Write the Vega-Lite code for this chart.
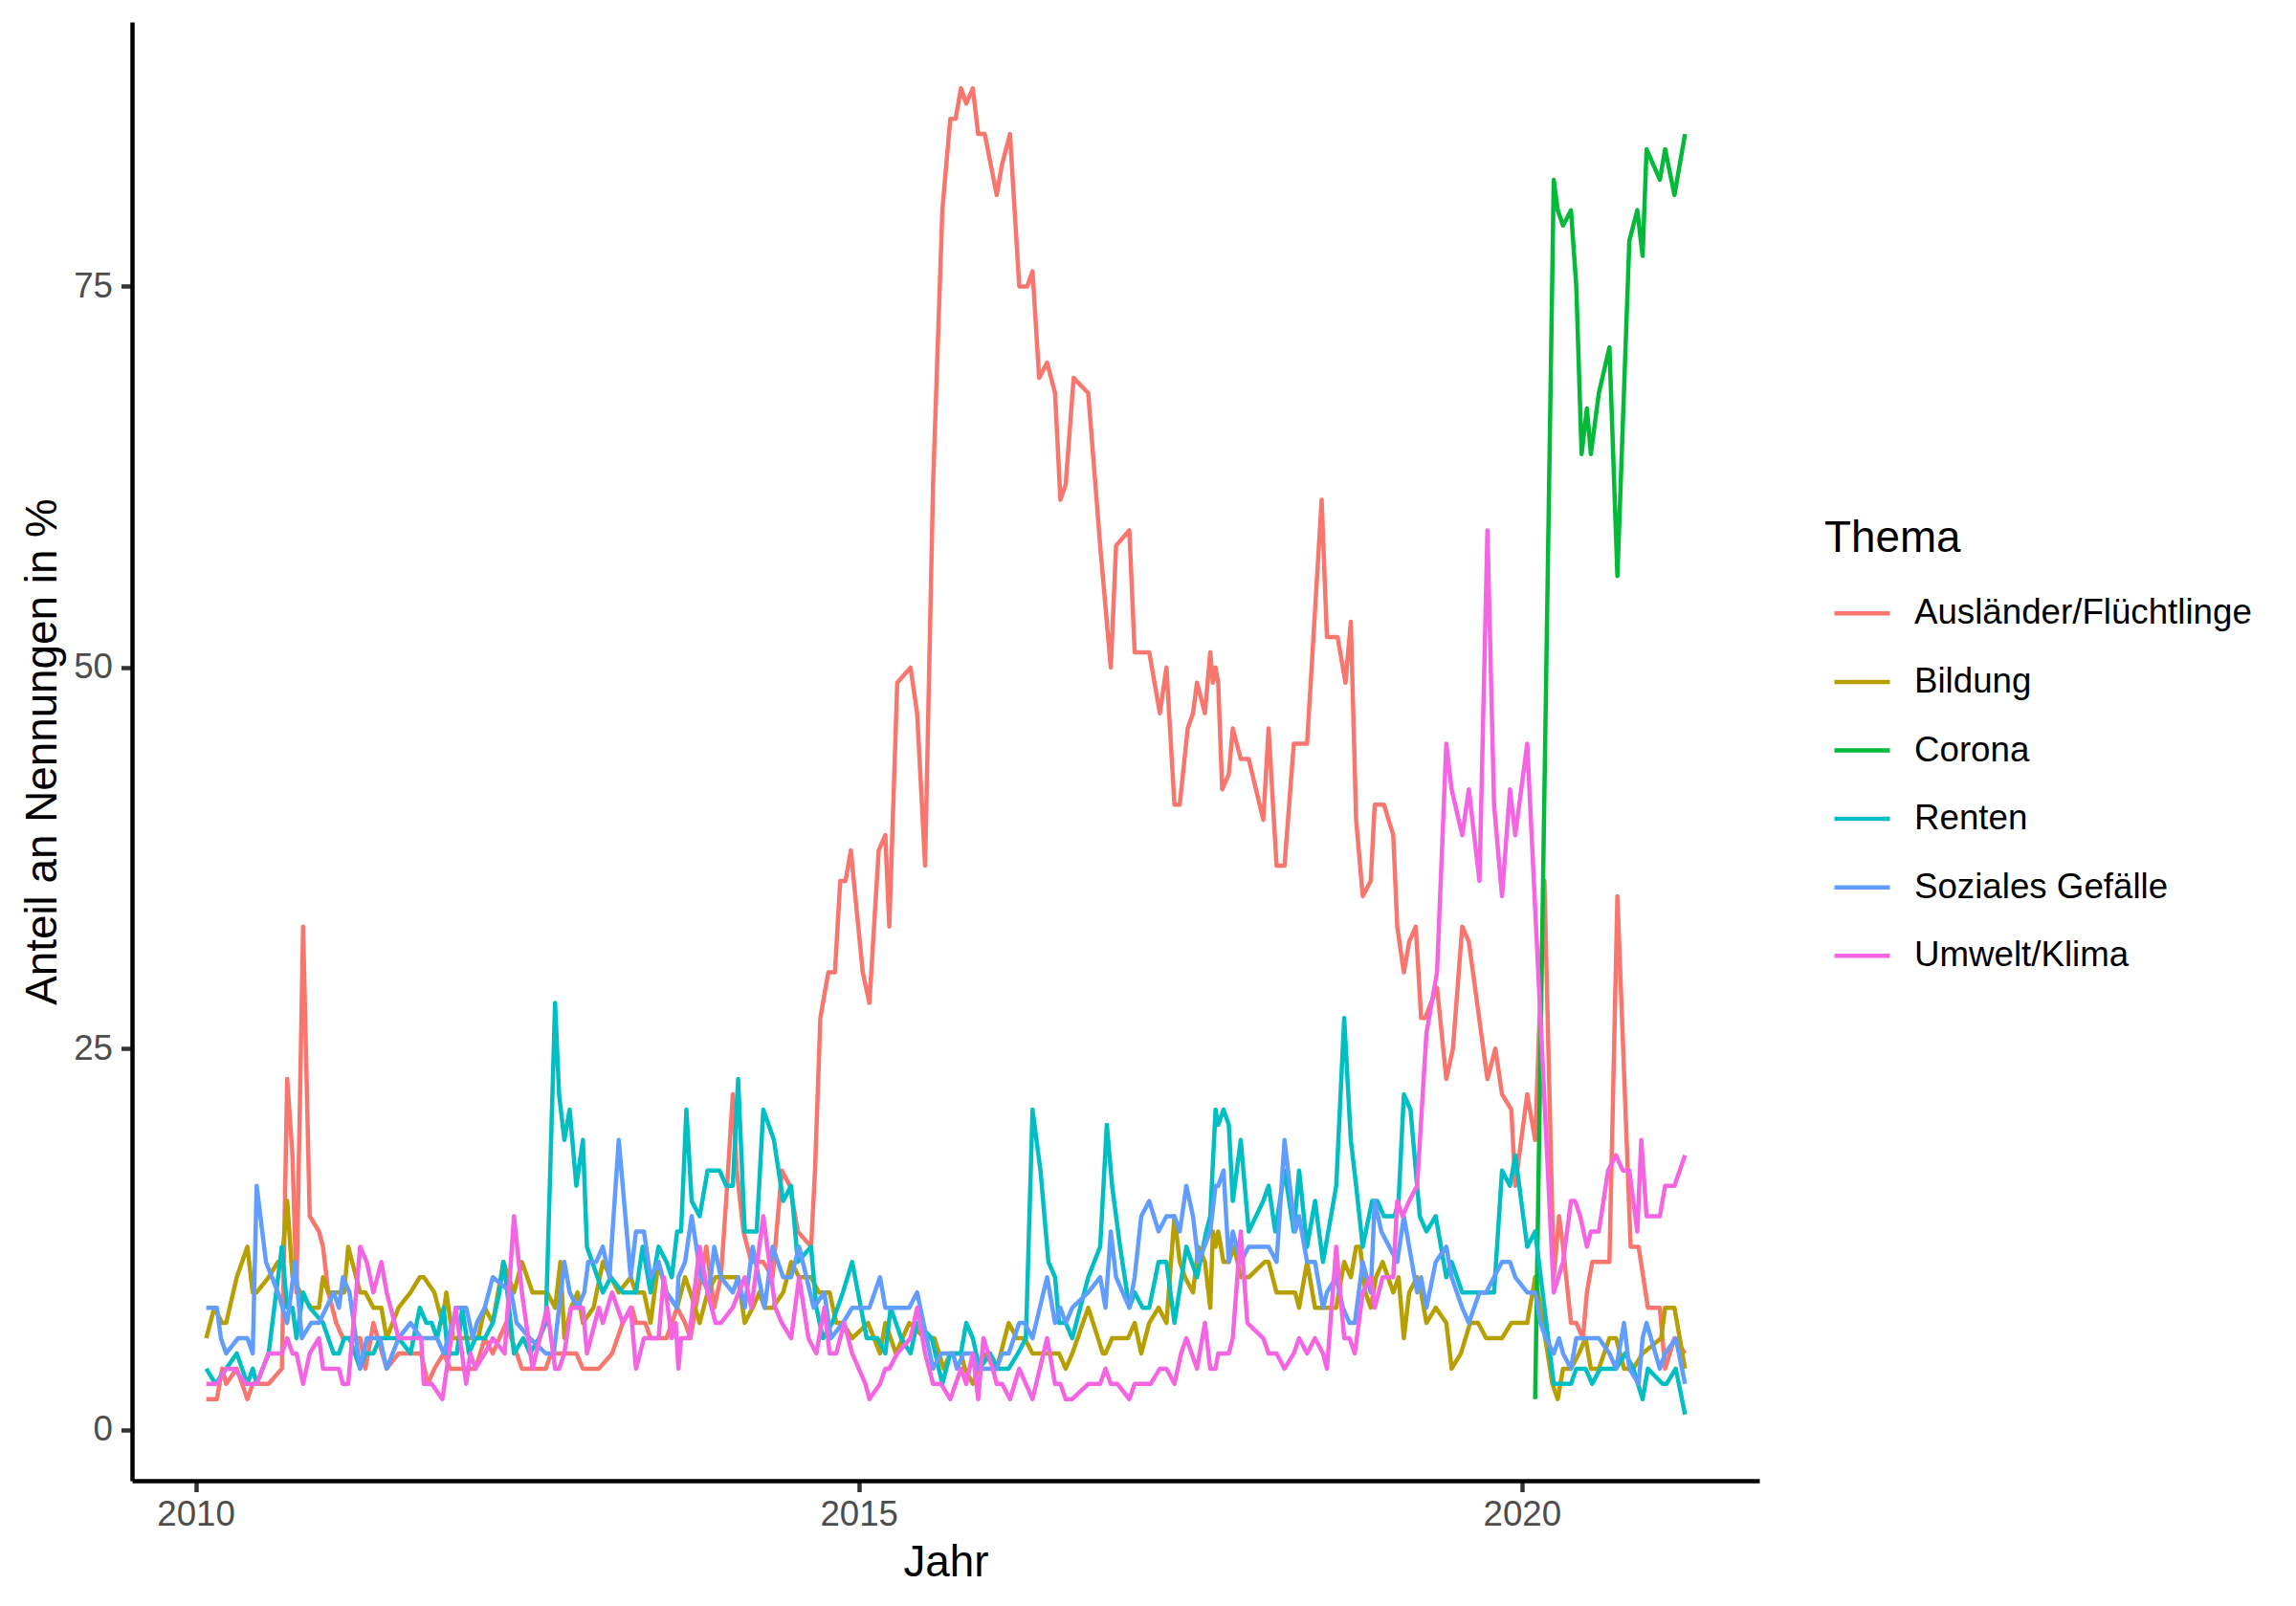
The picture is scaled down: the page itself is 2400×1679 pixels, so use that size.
{
  "$schema": "https://vega.github.io/schema/vega-lite/v6.json",
  "width": 1701,
  "height": 1525,
  "autosize": {"type": "none"},
  "padding": {"left": 138, "top": 23, "right": 561, "bottom": 131},
  "background": "white",
  "config": {
    "view": {"stroke": null},
    "font": "Liberation Sans",
    "axis": {
      "grid": false,
      "domainColor": "black",
      "domainWidth": 4.5,
      "tickColor": "#333333",
      "tickWidth": 4.5,
      "tickSize": 11.5,
      "labelColor": "#4D4D4D",
      "labelFont": "Liberation Sans",
      "labelFontSize": 36.7,
      "titleFont": "Liberation Sans",
      "titleFontSize": 45.8,
      "titleColor": "black",
      "titleFontWeight": "normal",
      "labelFlush": false,
      "labelOverlap": false,
      "labelBound": false
    },
    "axisX": {"labelPadding": 6, "titlePadding": 9},
    "axisY": {"labelPadding": 9, "titlePadding": 8},
    "legend": {
      "orient": "none",
      "legendX": 1769,
      "legendY": 518,
      "titleFont": "Liberation Sans",
      "titleFontSize": 45.8,
      "titleFontWeight": "normal",
      "titleColor": "black",
      "titlePadding": 23,
      "labelFont": "Liberation Sans",
      "labelFontSize": 36.7,
      "labelColor": "black",
      "labelLimit": 0,
      "labelOffset": 23,
      "symbolType": "stroke",
      "symbolSize": 3364,
      "symbolStrokeWidth": 4.5,
      "symbolOffset": 8,
      "rowPadding": 20.6
    },
    "line": {"strokeWidth": 4.5, "strokeJoin": "round", "strokeCap": "butt"}
  },
  "datasets": {
    "auslaender": [
      {"Jahr":2010.08,"Anteil":2},{"Jahr":2010.16,"Anteil":2},{"Jahr":2010.20,"Anteil":4},{"Jahr":2010.23,"Anteil":3},{"Jahr":2010.31,"Anteil":4},{"Jahr":2010.39,"Anteil":2},{"Jahr":2010.43,"Anteil":3},{"Jahr":2010.55,"Anteil":3},{"Jahr":2010.65,"Anteil":4},{"Jahr":2010.69,"Anteil":23},{"Jahr":2010.73,"Anteil":18},{"Jahr":2010.76,"Anteil":9},{"Jahr":2010.81,"Anteil":33},{"Jahr":2010.86,"Anteil":14},{"Jahr":2010.93,"Anteil":13},{"Jahr":2010.96,"Anteil":12},{"Jahr":2011.00,"Anteil":9},{"Jahr":2011.06,"Anteil":7},{"Jahr":2011.11,"Anteil":6},{"Jahr":2011.24,"Anteil":6},{"Jahr":2011.28,"Anteil":4},{"Jahr":2011.34,"Anteil":7},{"Jahr":2011.44,"Anteil":4},{"Jahr":2011.53,"Anteil":5},{"Jahr":2011.70,"Anteil":5},{"Jahr":2011.75,"Anteil":3},{"Jahr":2011.80,"Anteil":4},{"Jahr":2011.87,"Anteil":5},{"Jahr":2011.92,"Anteil":4},{"Jahr":2012.11,"Anteil":4},{"Jahr":2012.18,"Anteil":6},{"Jahr":2012.24,"Anteil":5},{"Jahr":2012.34,"Anteil":7},{"Jahr":2012.46,"Anteil":4},{"Jahr":2012.56,"Anteil":4},{"Jahr":2012.64,"Anteil":4},{"Jahr":2012.68,"Anteil":5},{"Jahr":2012.78,"Anteil":5},{"Jahr":2012.87,"Anteil":5},{"Jahr":2012.92,"Anteil":4},{"Jahr":2013.04,"Anteil":4},{"Jahr":2013.14,"Anteil":5},{"Jahr":2013.22,"Anteil":7},{"Jahr":2013.29,"Anteil":8},{"Jahr":2013.32,"Anteil":7},{"Jahr":2013.39,"Anteil":7},{"Jahr":2013.43,"Anteil":6},{"Jahr":2013.55,"Anteil":6},{"Jahr":2013.63,"Anteil":8},{"Jahr":2013.69,"Anteil":7},{"Jahr":2013.73,"Anteil":6},{"Jahr":2013.79,"Anteil":9},{"Jahr":2013.85,"Anteil":12},{"Jahr":2013.91,"Anteil":8},{"Jahr":2013.96,"Anteil":10},{"Jahr":2014.00,"Anteil":15},{"Jahr":2014.05,"Anteil":22},{"Jahr":2014.08,"Anteil":17},{"Jahr":2014.13,"Anteil":13},{"Jahr":2014.19,"Anteil":11},{"Jahr":2014.28,"Anteil":11},{"Jahr":2014.35,"Anteil":10},{"Jahr":2014.42,"Anteil":17},{"Jahr":2014.48,"Anteil":16},{"Jahr":2014.54,"Anteil":13},{"Jahr":2014.64,"Anteil":12},{"Jahr":2014.67,"Anteil":17},{"Jahr":2014.71,"Anteil":27},{"Jahr":2014.77,"Anteil":30},{"Jahr":2014.82,"Anteil":30},{"Jahr":2014.86,"Anteil":36},{"Jahr":2014.90,"Anteil":36},{"Jahr":2014.94,"Anteil":38},{"Jahr":2015.03,"Anteil":30},{"Jahr":2015.08,"Anteil":28},{"Jahr":2015.15,"Anteil":38},{"Jahr":2015.20,"Anteil":39},{"Jahr":2015.23,"Anteil":33},{"Jahr":2015.29,"Anteil":49},{"Jahr":2015.39,"Anteil":50},{"Jahr":2015.44,"Anteil":47},{"Jahr":2015.50,"Anteil":37},{"Jahr":2015.56,"Anteil":62},{"Jahr":2015.63,"Anteil":80},{"Jahr":2015.69,"Anteil":86},{"Jahr":2015.73,"Anteil":86},{"Jahr":2015.77,"Anteil":88},{"Jahr":2015.81,"Anteil":87},{"Jahr":2015.86,"Anteil":88},{"Jahr":2015.90,"Anteil":85},{"Jahr":2015.95,"Anteil":85},{"Jahr":2016.04,"Anteil":81},{"Jahr":2016.08,"Anteil":83},{"Jahr":2016.14,"Anteil":85},{"Jahr":2016.21,"Anteil":75},{"Jahr":2016.27,"Anteil":75},{"Jahr":2016.31,"Anteil":76},{"Jahr":2016.36,"Anteil":69},{"Jahr":2016.42,"Anteil":70},{"Jahr":2016.48,"Anteil":68},{"Jahr":2016.52,"Anteil":61},{"Jahr":2016.56,"Anteil":62},{"Jahr":2016.62,"Anteil":69},{"Jahr":2016.73,"Anteil":68},{"Jahr":2016.82,"Anteil":58},{"Jahr":2016.90,"Anteil":50},{"Jahr":2016.94,"Anteil":58},{"Jahr":2017.04,"Anteil":59},{"Jahr":2017.08,"Anteil":51},{"Jahr":2017.19,"Anteil":51},{"Jahr":2017.27,"Anteil":47},{"Jahr":2017.32,"Anteil":50},{"Jahr":2017.38,"Anteil":41},{"Jahr":2017.42,"Anteil":41},{"Jahr":2017.48,"Anteil":46},{"Jahr":2017.52,"Anteil":47},{"Jahr":2017.55,"Anteil":49},{"Jahr":2017.61,"Anteil":47},{"Jahr":2017.65,"Anteil":51},{"Jahr":2017.67,"Anteil":49},{"Jahr":2017.69,"Anteil":50},{"Jahr":2017.71,"Anteil":49},{"Jahr":2017.74,"Anteil":42},{"Jahr":2017.79,"Anteil":43},{"Jahr":2017.82,"Anteil":46},{"Jahr":2017.88,"Anteil":44},{"Jahr":2017.94,"Anteil":44},{"Jahr":2018.05,"Anteil":40},{"Jahr":2018.09,"Anteil":46},{"Jahr":2018.15,"Anteil":37},{"Jahr":2018.21,"Anteil":37},{"Jahr":2018.28,"Anteil":45},{"Jahr":2018.38,"Anteil":45},{"Jahr":2018.49,"Anteil":61},{"Jahr":2018.53,"Anteil":52},{"Jahr":2018.61,"Anteil":52},{"Jahr":2018.67,"Anteil":49},{"Jahr":2018.71,"Anteil":53},{"Jahr":2018.75,"Anteil":40},{"Jahr":2018.80,"Anteil":35},{"Jahr":2018.86,"Anteil":36},{"Jahr":2018.89,"Anteil":41},{"Jahr":2018.96,"Anteil":41},{"Jahr":2019.03,"Anteil":39},{"Jahr":2019.06,"Anteil":33},{"Jahr":2019.11,"Anteil":30},{"Jahr":2019.15,"Anteil":32},{"Jahr":2019.20,"Anteil":33},{"Jahr":2019.24,"Anteil":27},{"Jahr":2019.27,"Anteil":27},{"Jahr":2019.36,"Anteil":29},{"Jahr":2019.43,"Anteil":23},{"Jahr":2019.48,"Anteil":25},{"Jahr":2019.55,"Anteil":33},{"Jahr":2019.60,"Anteil":32},{"Jahr":2019.74,"Anteil":23},{"Jahr":2019.80,"Anteil":25},{"Jahr":2019.85,"Anteil":22},{"Jahr":2019.92,"Anteil":21},{"Jahr":2019.95,"Anteil":16},{"Jahr":2020.04,"Anteil":22},{"Jahr":2020.10,"Anteil":19},{"Jahr":2020.17,"Anteil":36},{"Jahr":2020.24,"Anteil":10},{"Jahr":2020.28,"Anteil":14},{"Jahr":2020.31,"Anteil":12},{"Jahr":2020.37,"Anteil":7},{"Jahr":2020.41,"Anteil":7},{"Jahr":2020.46,"Anteil":6},{"Jahr":2020.49,"Anteil":9},{"Jahr":2020.53,"Anteil":11},{"Jahr":2020.66,"Anteil":11},{"Jahr":2020.72,"Anteil":35},{"Jahr":2020.82,"Anteil":12},{"Jahr":2020.88,"Anteil":12},{"Jahr":2020.95,"Anteil":8},{"Jahr":2021.04,"Anteil":8},{"Jahr":2021.08,"Anteil":4},{"Jahr":2021.15,"Anteil":6},{"Jahr":2021.23,"Anteil":5}
    ],
    "bildung": [
      {"Jahr":2010.08,"Anteil":6},{"Jahr":2010.14,"Anteil":8},{"Jahr":2010.20,"Anteil":7},{"Jahr":2010.23,"Anteil":7},{"Jahr":2010.31,"Anteil":10},{"Jahr":2010.39,"Anteil":12},{"Jahr":2010.43,"Anteil":9},{"Jahr":2010.46,"Anteil":9},{"Jahr":2010.55,"Anteil":10},{"Jahr":2010.62,"Anteil":11},{"Jahr":2010.65,"Anteil":11},{"Jahr":2010.69,"Anteil":15},{"Jahr":2010.73,"Anteil":10},{"Jahr":2010.79,"Anteil":9},{"Jahr":2010.87,"Anteil":8},{"Jahr":2010.93,"Anteil":8},{"Jahr":2010.96,"Anteil":10},{"Jahr":2011.00,"Anteil":9},{"Jahr":2011.07,"Anteil":9},{"Jahr":2011.12,"Anteil":9},{"Jahr":2011.15,"Anteil":12},{"Jahr":2011.21,"Anteil":10},{"Jahr":2011.24,"Anteil":9},{"Jahr":2011.28,"Anteil":9},{"Jahr":2011.34,"Anteil":8},{"Jahr":2011.40,"Anteil":8},{"Jahr":2011.44,"Anteil":6},{"Jahr":2011.53,"Anteil":8},{"Jahr":2011.62,"Anteil":9},{"Jahr":2011.69,"Anteil":10},{"Jahr":2011.72,"Anteil":10},{"Jahr":2011.80,"Anteil":9},{"Jahr":2011.86,"Anteil":7},{"Jahr":2011.89,"Anteil":9},{"Jahr":2011.94,"Anteil":6},{"Jahr":2012.04,"Anteil":6},{"Jahr":2012.13,"Anteil":6},{"Jahr":2012.18,"Anteil":8},{"Jahr":2012.24,"Anteil":7},{"Jahr":2012.32,"Anteil":11},{"Jahr":2012.40,"Anteil":9},{"Jahr":2012.46,"Anteil":11},{"Jahr":2012.54,"Anteil":9},{"Jahr":2012.65,"Anteil":9},{"Jahr":2012.71,"Anteil":8},{"Jahr":2012.75,"Anteil":11},{"Jahr":2012.78,"Anteil":6},{"Jahr":2012.83,"Anteil":8},{"Jahr":2012.88,"Anteil":9},{"Jahr":2012.92,"Anteil":7},{"Jahr":2013.00,"Anteil":8},{"Jahr":2013.07,"Anteil":11},{"Jahr":2013.13,"Anteil":10},{"Jahr":2013.19,"Anteil":9},{"Jahr":2013.28,"Anteil":10},{"Jahr":2013.32,"Anteil":9},{"Jahr":2013.38,"Anteil":9},{"Jahr":2013.43,"Anteil":7},{"Jahr":2013.49,"Anteil":11},{"Jahr":2013.55,"Anteil":9},{"Jahr":2013.63,"Anteil":8},{"Jahr":2013.69,"Anteil":10},{"Jahr":2013.73,"Anteil":9},{"Jahr":2013.80,"Anteil":7},{"Jahr":2013.86,"Anteil":9},{"Jahr":2013.92,"Anteil":10},{"Jahr":2013.96,"Anteil":10},{"Jahr":2014.09,"Anteil":10},{"Jahr":2014.14,"Anteil":7},{"Jahr":2014.20,"Anteil":8},{"Jahr":2014.25,"Anteil":9},{"Jahr":2014.29,"Anteil":8},{"Jahr":2014.35,"Anteil":8},{"Jahr":2014.43,"Anteil":9},{"Jahr":2014.49,"Anteil":11},{"Jahr":2014.55,"Anteil":10},{"Jahr":2014.64,"Anteil":10},{"Jahr":2014.70,"Anteil":9},{"Jahr":2014.78,"Anteil":9},{"Jahr":2014.83,"Anteil":7},{"Jahr":2014.88,"Anteil":7},{"Jahr":2014.95,"Anteil":6},{"Jahr":2015.07,"Anteil":7},{"Jahr":2015.16,"Anteil":5},{"Jahr":2015.20,"Anteil":7},{"Jahr":2015.28,"Anteil":5},{"Jahr":2015.38,"Anteil":7},{"Jahr":2015.50,"Anteil":6},{"Jahr":2015.57,"Anteil":6},{"Jahr":2015.64,"Anteil":4},{"Jahr":2015.69,"Anteil":5},{"Jahr":2015.77,"Anteil":5},{"Jahr":2015.80,"Anteil":4},{"Jahr":2015.86,"Anteil":3},{"Jahr":2015.94,"Anteil":5},{"Jahr":2016.04,"Anteil":4},{"Jahr":2016.13,"Anteil":7},{"Jahr":2016.19,"Anteil":6},{"Jahr":2016.25,"Anteil":6},{"Jahr":2016.31,"Anteil":5},{"Jahr":2016.42,"Anteil":5},{"Jahr":2016.51,"Anteil":5},{"Jahr":2016.56,"Anteil":4},{"Jahr":2016.61,"Anteil":5},{"Jahr":2016.73,"Anteil":8},{"Jahr":2016.84,"Anteil":5},{"Jahr":2016.86,"Anteil":5},{"Jahr":2016.91,"Anteil":6},{"Jahr":2017.03,"Anteil":6},{"Jahr":2017.08,"Anteil":7},{"Jahr":2017.13,"Anteil":5},{"Jahr":2017.19,"Anteil":7},{"Jahr":2017.26,"Anteil":8},{"Jahr":2017.32,"Anteil":7},{"Jahr":2017.38,"Anteil":14},{"Jahr":2017.42,"Anteil":11},{"Jahr":2017.46,"Anteil":10},{"Jahr":2017.52,"Anteil":9},{"Jahr":2017.56,"Anteil":12},{"Jahr":2017.61,"Anteil":11},{"Jahr":2017.65,"Anteil":8},{"Jahr":2017.67,"Anteil":13},{"Jahr":2017.69,"Anteil":12},{"Jahr":2017.71,"Anteil":13},{"Jahr":2017.75,"Anteil":11},{"Jahr":2017.79,"Anteil":11},{"Jahr":2017.83,"Anteil":12},{"Jahr":2017.88,"Anteil":10},{"Jahr":2017.94,"Anteil":10},{"Jahr":2018.06,"Anteil":11},{"Jahr":2018.09,"Anteil":11},{"Jahr":2018.15,"Anteil":9},{"Jahr":2018.29,"Anteil":9},{"Jahr":2018.32,"Anteil":8},{"Jahr":2018.38,"Anteil":11},{"Jahr":2018.44,"Anteil":8},{"Jahr":2018.50,"Anteil":8},{"Jahr":2018.60,"Anteil":8},{"Jahr":2018.66,"Anteil":11},{"Jahr":2018.71,"Anteil":10},{"Jahr":2018.75,"Anteil":12},{"Jahr":2018.78,"Anteil":12},{"Jahr":2018.82,"Anteil":9},{"Jahr":2018.86,"Anteil":8},{"Jahr":2018.90,"Anteil":10},{"Jahr":2018.95,"Anteil":11},{"Jahr":2018.99,"Anteil":10},{"Jahr":2019.03,"Anteil":9},{"Jahr":2019.07,"Anteil":10},{"Jahr":2019.11,"Anteil":6},{"Jahr":2019.15,"Anteil":9},{"Jahr":2019.21,"Anteil":10},{"Jahr":2019.24,"Anteil":9},{"Jahr":2019.28,"Anteil":7},{"Jahr":2019.35,"Anteil":8},{"Jahr":2019.43,"Anteil":7},{"Jahr":2019.47,"Anteil":4},{"Jahr":2019.54,"Anteil":5},{"Jahr":2019.61,"Anteil":7},{"Jahr":2019.67,"Anteil":7},{"Jahr":2019.73,"Anteil":6},{"Jahr":2019.85,"Anteil":6},{"Jahr":2019.92,"Anteil":7},{"Jahr":2020.04,"Anteil":7},{"Jahr":2020.10,"Anteil":10},{"Jahr":2020.14,"Anteil":8},{"Jahr":2020.23,"Anteil":3},{"Jahr":2020.27,"Anteil":2},{"Jahr":2020.31,"Anteil":4},{"Jahr":2020.37,"Anteil":4},{"Jahr":2020.43,"Anteil":5},{"Jahr":2020.48,"Anteil":6},{"Jahr":2020.52,"Anteil":4},{"Jahr":2020.58,"Anteil":4},{"Jahr":2020.66,"Anteil":6},{"Jahr":2020.71,"Anteil":6},{"Jahr":2020.77,"Anteil":4},{"Jahr":2020.84,"Anteil":4},{"Jahr":2020.91,"Anteil":5},{"Jahr":2021.05,"Anteil":6},{"Jahr":2021.08,"Anteil":8},{"Jahr":2021.15,"Anteil":8},{"Jahr":2021.23,"Anteil":4}
    ],
    "corona": [
      {"Jahr":2020.10,"Anteil":2},{"Jahr":2020.24,"Anteil":82},{"Jahr":2020.27,"Anteil":80},{"Jahr":2020.31,"Anteil":79},{"Jahr":2020.37,"Anteil":80},{"Jahr":2020.41,"Anteil":75},{"Jahr":2020.45,"Anteil":64},{"Jahr":2020.49,"Anteil":67},{"Jahr":2020.52,"Anteil":64},{"Jahr":2020.58,"Anteil":68},{"Jahr":2020.66,"Anteil":71},{"Jahr":2020.72,"Anteil":56},{"Jahr":2020.81,"Anteil":78},{"Jahr":2020.87,"Anteil":80},{"Jahr":2020.91,"Anteil":77},{"Jahr":2020.94,"Anteil":84},{"Jahr":2021.04,"Anteil":82},{"Jahr":2021.08,"Anteil":84},{"Jahr":2021.15,"Anteil":81},{"Jahr":2021.23,"Anteil":85}
    ],
    "renten": [
      {"Jahr":2010.08,"Anteil":4},{"Jahr":2010.15,"Anteil":3},{"Jahr":2010.23,"Anteil":4},{"Jahr":2010.31,"Anteil":5},{"Jahr":2010.39,"Anteil":3},{"Jahr":2010.43,"Anteil":4},{"Jahr":2010.46,"Anteil":3},{"Jahr":2010.55,"Anteil":5},{"Jahr":2010.65,"Anteil":12},{"Jahr":2010.69,"Anteil":8},{"Jahr":2010.73,"Anteil":8},{"Jahr":2010.76,"Anteil":6},{"Jahr":2010.81,"Anteil":9},{"Jahr":2010.86,"Anteil":8},{"Jahr":2010.96,"Anteil":7},{"Jahr":2011.04,"Anteil":5},{"Jahr":2011.08,"Anteil":5},{"Jahr":2011.12,"Anteil":6},{"Jahr":2011.16,"Anteil":6},{"Jahr":2011.24,"Anteil":4},{"Jahr":2011.28,"Anteil":5},{"Jahr":2011.34,"Anteil":5},{"Jahr":2011.39,"Anteil":6},{"Jahr":2011.45,"Anteil":6},{"Jahr":2011.53,"Anteil":6},{"Jahr":2011.62,"Anteil":5},{"Jahr":2011.69,"Anteil":8},{"Jahr":2011.74,"Anteil":7},{"Jahr":2011.78,"Anteil":7},{"Jahr":2011.82,"Anteil":6},{"Jahr":2011.87,"Anteil":8},{"Jahr":2011.90,"Anteil":5},{"Jahr":2011.97,"Anteil":5},{"Jahr":2012.01,"Anteil":8},{"Jahr":2012.06,"Anteil":5},{"Jahr":2012.11,"Anteil":6},{"Jahr":2012.18,"Anteil":6},{"Jahr":2012.24,"Anteil":7},{"Jahr":2012.29,"Anteil":9},{"Jahr":2012.32,"Anteil":11},{"Jahr":2012.35,"Anteil":9},{"Jahr":2012.40,"Anteil":5},{"Jahr":2012.47,"Anteil":6},{"Jahr":2012.52,"Anteil":5},{"Jahr":2012.59,"Anteil":6},{"Jahr":2012.64,"Anteil":7},{"Jahr":2012.71,"Anteil":28},{"Jahr":2012.74,"Anteil":22},{"Jahr":2012.78,"Anteil":19},{"Jahr":2012.82,"Anteil":21},{"Jahr":2012.87,"Anteil":16},{"Jahr":2012.92,"Anteil":19},{"Jahr":2012.95,"Anteil":12},{"Jahr":2012.99,"Anteil":11},{"Jahr":2013.07,"Anteil":9},{"Jahr":2013.13,"Anteil":10},{"Jahr":2013.22,"Anteil":9},{"Jahr":2013.32,"Anteil":9},{"Jahr":2013.37,"Anteil":12},{"Jahr":2013.43,"Anteil":9},{"Jahr":2013.49,"Anteil":12},{"Jahr":2013.55,"Anteil":11},{"Jahr":2013.59,"Anteil":10},{"Jahr":2013.63,"Anteil":13},{"Jahr":2013.66,"Anteil":13},{"Jahr":2013.70,"Anteil":21},{"Jahr":2013.74,"Anteil":15},{"Jahr":2013.80,"Anteil":14},{"Jahr":2013.86,"Anteil":17},{"Jahr":2013.95,"Anteil":17},{"Jahr":2014.00,"Anteil":16},{"Jahr":2014.05,"Anteil":16},{"Jahr":2014.09,"Anteil":23},{"Jahr":2014.14,"Anteil":13},{"Jahr":2014.23,"Anteil":13},{"Jahr":2014.28,"Anteil":21},{"Jahr":2014.36,"Anteil":19},{"Jahr":2014.43,"Anteil":15},{"Jahr":2014.49,"Anteil":16},{"Jahr":2014.54,"Anteil":11},{"Jahr":2014.64,"Anteil":12},{"Jahr":2014.68,"Anteil":8},{"Jahr":2014.73,"Anteil":6},{"Jahr":2014.80,"Anteil":7},{"Jahr":2014.88,"Anteil":9},{"Jahr":2014.95,"Anteil":11},{"Jahr":2015.06,"Anteil":6},{"Jahr":2015.14,"Anteil":6},{"Jahr":2015.20,"Anteil":5},{"Jahr":2015.24,"Anteil":8},{"Jahr":2015.32,"Anteil":6},{"Jahr":2015.39,"Anteil":5},{"Jahr":2015.44,"Anteil":7},{"Jahr":2015.55,"Anteil":6},{"Jahr":2015.63,"Anteil":3},{"Jahr":2015.69,"Anteil":5},{"Jahr":2015.77,"Anteil":5},{"Jahr":2015.81,"Anteil":7},{"Jahr":2015.86,"Anteil":6},{"Jahr":2015.91,"Anteil":4},{"Jahr":2015.99,"Anteil":5},{"Jahr":2016.05,"Anteil":4},{"Jahr":2016.13,"Anteil":4},{"Jahr":2016.20,"Anteil":5},{"Jahr":2016.26,"Anteil":6},{"Jahr":2016.31,"Anteil":21},{"Jahr":2016.37,"Anteil":17},{"Jahr":2016.43,"Anteil":11},{"Jahr":2016.48,"Anteil":10},{"Jahr":2016.51,"Anteil":7},{"Jahr":2016.56,"Anteil":7},{"Jahr":2016.61,"Anteil":6},{"Jahr":2016.67,"Anteil":8},{"Jahr":2016.73,"Anteil":10},{"Jahr":2016.82,"Anteil":12},{"Jahr":2016.87,"Anteil":20},{"Jahr":2016.91,"Anteil":16},{"Jahr":2016.97,"Anteil":12},{"Jahr":2017.04,"Anteil":8},{"Jahr":2017.08,"Anteil":9},{"Jahr":2017.14,"Anteil":8},{"Jahr":2017.19,"Anteil":8},{"Jahr":2017.26,"Anteil":11},{"Jahr":2017.32,"Anteil":11},{"Jahr":2017.38,"Anteil":7},{"Jahr":2017.47,"Anteil":12},{"Jahr":2017.55,"Anteil":10},{"Jahr":2017.62,"Anteil":13},{"Jahr":2017.65,"Anteil":14},{"Jahr":2017.69,"Anteil":21},{"Jahr":2017.71,"Anteil":20},{"Jahr":2017.75,"Anteil":21},{"Jahr":2017.79,"Anteil":20},{"Jahr":2017.82,"Anteil":15},{"Jahr":2017.88,"Anteil":19},{"Jahr":2017.94,"Anteil":13},{"Jahr":2018.05,"Anteil":15},{"Jahr":2018.09,"Anteil":16},{"Jahr":2018.14,"Anteil":13},{"Jahr":2018.21,"Anteil":17},{"Jahr":2018.28,"Anteil":13},{"Jahr":2018.32,"Anteil":17},{"Jahr":2018.38,"Anteil":12},{"Jahr":2018.44,"Anteil":15},{"Jahr":2018.50,"Anteil":11},{"Jahr":2018.60,"Anteil":16},{"Jahr":2018.66,"Anteil":27},{"Jahr":2018.71,"Anteil":19},{"Jahr":2018.75,"Anteil":16},{"Jahr":2018.80,"Anteil":12},{"Jahr":2018.87,"Anteil":15},{"Jahr":2018.91,"Anteil":15},{"Jahr":2018.96,"Anteil":14},{"Jahr":2019.04,"Anteil":14},{"Jahr":2019.07,"Anteil":15},{"Jahr":2019.11,"Anteil":22},{"Jahr":2019.16,"Anteil":21},{"Jahr":2019.23,"Anteil":14},{"Jahr":2019.28,"Anteil":13},{"Jahr":2019.35,"Anteil":14},{"Jahr":2019.43,"Anteil":10},{"Jahr":2019.47,"Anteil":11},{"Jahr":2019.55,"Anteil":9},{"Jahr":2019.65,"Anteil":9},{"Jahr":2019.79,"Anteil":9},{"Jahr":2019.85,"Anteil":17},{"Jahr":2019.91,"Anteil":16},{"Jahr":2019.95,"Anteil":18},{"Jahr":2020.04,"Anteil":12},{"Jahr":2020.10,"Anteil":13},{"Jahr":2020.24,"Anteil":3},{"Jahr":2020.37,"Anteil":3},{"Jahr":2020.41,"Anteil":4},{"Jahr":2020.48,"Anteil":4},{"Jahr":2020.53,"Anteil":3},{"Jahr":2020.59,"Anteil":4},{"Jahr":2020.71,"Anteil":4},{"Jahr":2020.78,"Anteil":5},{"Jahr":2020.84,"Anteil":4},{"Jahr":2020.91,"Anteil":2},{"Jahr":2020.95,"Anteil":4},{"Jahr":2021.06,"Anteil":3},{"Jahr":2021.09,"Anteil":3},{"Jahr":2021.16,"Anteil":4},{"Jahr":2021.23,"Anteil":1}
    ],
    "soziales": [
      {"Jahr":2010.08,"Anteil":8},{"Jahr":2010.16,"Anteil":8},{"Jahr":2010.19,"Anteil":6},{"Jahr":2010.23,"Anteil":5},{"Jahr":2010.32,"Anteil":6},{"Jahr":2010.39,"Anteil":6},{"Jahr":2010.43,"Anteil":5},{"Jahr":2010.46,"Anteil":16},{"Jahr":2010.53,"Anteil":11},{"Jahr":2010.62,"Anteil":9},{"Jahr":2010.69,"Anteil":7},{"Jahr":2010.75,"Anteil":11},{"Jahr":2010.80,"Anteil":6},{"Jahr":2010.87,"Anteil":7},{"Jahr":2010.93,"Anteil":7},{"Jahr":2011.04,"Anteil":9},{"Jahr":2011.08,"Anteil":8},{"Jahr":2011.11,"Anteil":10},{"Jahr":2011.16,"Anteil":9},{"Jahr":2011.24,"Anteil":4},{"Jahr":2011.29,"Anteil":6},{"Jahr":2011.39,"Anteil":6},{"Jahr":2011.44,"Anteil":4},{"Jahr":2011.53,"Anteil":6},{"Jahr":2011.62,"Anteil":7},{"Jahr":2011.70,"Anteil":6},{"Jahr":2011.82,"Anteil":6},{"Jahr":2011.87,"Anteil":5},{"Jahr":2011.97,"Anteil":8},{"Jahr":2012.04,"Anteil":8},{"Jahr":2012.09,"Anteil":6},{"Jahr":2012.12,"Anteil":7},{"Jahr":2012.18,"Anteil":8},{"Jahr":2012.24,"Anteil":10},{"Jahr":2012.38,"Anteil":9},{"Jahr":2012.42,"Anteil":7},{"Jahr":2012.52,"Anteil":6},{"Jahr":2012.64,"Anteil":5},{"Jahr":2012.70,"Anteil":5},{"Jahr":2012.78,"Anteil":11},{"Jahr":2012.82,"Anteil":9},{"Jahr":2012.88,"Anteil":8},{"Jahr":2012.93,"Anteil":9},{"Jahr":2012.96,"Anteil":11},{"Jahr":2013.02,"Anteil":11},{"Jahr":2013.07,"Anteil":12},{"Jahr":2013.12,"Anteil":10},{"Jahr":2013.19,"Anteil":19},{"Jahr":2013.28,"Anteil":10},{"Jahr":2013.32,"Anteil":13},{"Jahr":2013.38,"Anteil":13},{"Jahr":2013.43,"Anteil":10},{"Jahr":2013.49,"Anteil":11},{"Jahr":2013.55,"Anteil":9},{"Jahr":2013.63,"Anteil":8},{"Jahr":2013.64,"Anteil":10},{"Jahr":2013.69,"Anteil":11},{"Jahr":2013.74,"Anteil":14},{"Jahr":2013.81,"Anteil":10},{"Jahr":2013.87,"Anteil":9},{"Jahr":2013.91,"Anteil":12},{"Jahr":2013.96,"Anteil":10},{"Jahr":2014.05,"Anteil":9},{"Jahr":2014.09,"Anteil":10},{"Jahr":2014.14,"Anteil":8},{"Jahr":2014.20,"Anteil":12},{"Jahr":2014.29,"Anteil":8},{"Jahr":2014.35,"Anteil":12},{"Jahr":2014.43,"Anteil":10},{"Jahr":2014.49,"Anteil":10},{"Jahr":2014.55,"Anteil":12},{"Jahr":2014.66,"Anteil":8},{"Jahr":2014.74,"Anteil":9},{"Jahr":2014.79,"Anteil":6},{"Jahr":2014.88,"Anteil":7},{"Jahr":2014.95,"Anteil":8},{"Jahr":2015.08,"Anteil":8},{"Jahr":2015.16,"Anteil":10},{"Jahr":2015.20,"Anteil":8},{"Jahr":2015.38,"Anteil":8},{"Jahr":2015.44,"Anteil":9},{"Jahr":2015.56,"Anteil":4},{"Jahr":2015.62,"Anteil":5},{"Jahr":2015.71,"Anteil":5},{"Jahr":2015.74,"Anteil":4},{"Jahr":2015.79,"Anteil":5},{"Jahr":2015.86,"Anteil":5},{"Jahr":2015.90,"Anteil":4},{"Jahr":2016.04,"Anteil":4},{"Jahr":2016.08,"Anteil":5},{"Jahr":2016.13,"Anteil":5},{"Jahr":2016.21,"Anteil":7},{"Jahr":2016.25,"Anteil":7},{"Jahr":2016.31,"Anteil":6},{"Jahr":2016.42,"Anteil":10},{"Jahr":2016.48,"Anteil":7},{"Jahr":2016.52,"Anteil":8},{"Jahr":2016.56,"Anteil":7},{"Jahr":2016.61,"Anteil":8},{"Jahr":2016.73,"Anteil":9},{"Jahr":2016.82,"Anteil":10},{"Jahr":2016.86,"Anteil":8},{"Jahr":2016.90,"Anteil":13},{"Jahr":2016.94,"Anteil":10},{"Jahr":2017.04,"Anteil":8},{"Jahr":2017.08,"Anteil":10},{"Jahr":2017.13,"Anteil":14},{"Jahr":2017.19,"Anteil":15},{"Jahr":2017.26,"Anteil":13},{"Jahr":2017.32,"Anteil":14},{"Jahr":2017.38,"Anteil":14},{"Jahr":2017.42,"Anteil":13},{"Jahr":2017.47,"Anteil":16},{"Jahr":2017.52,"Anteil":14},{"Jahr":2017.56,"Anteil":11},{"Jahr":2017.65,"Anteil":13},{"Jahr":2017.69,"Anteil":16},{"Jahr":2017.71,"Anteil":16},{"Jahr":2017.75,"Anteil":17},{"Jahr":2017.79,"Anteil":11},{"Jahr":2017.82,"Anteil":13},{"Jahr":2017.88,"Anteil":11},{"Jahr":2017.94,"Anteil":12},{"Jahr":2018.09,"Anteil":12},{"Jahr":2018.15,"Anteil":11},{"Jahr":2018.21,"Anteil":19},{"Jahr":2018.29,"Anteil":13},{"Jahr":2018.32,"Anteil":14},{"Jahr":2018.38,"Anteil":11},{"Jahr":2018.44,"Anteil":11},{"Jahr":2018.50,"Anteil":8},{"Jahr":2018.53,"Anteil":9},{"Jahr":2018.60,"Anteil":10},{"Jahr":2018.65,"Anteil":8},{"Jahr":2018.70,"Anteil":7},{"Jahr":2018.74,"Anteil":7},{"Jahr":2018.80,"Anteil":11},{"Jahr":2018.86,"Anteil":9},{"Jahr":2018.89,"Anteil":15},{"Jahr":2018.94,"Anteil":13},{"Jahr":2019.00,"Anteil":12},{"Jahr":2019.06,"Anteil":11},{"Jahr":2019.11,"Anteil":14},{"Jahr":2019.21,"Anteil":9},{"Jahr":2019.24,"Anteil":10},{"Jahr":2019.28,"Anteil":8},{"Jahr":2019.35,"Anteil":11},{"Jahr":2019.43,"Anteil":12},{"Jahr":2019.47,"Anteil":10},{"Jahr":2019.55,"Anteil":8},{"Jahr":2019.60,"Anteil":7},{"Jahr":2019.68,"Anteil":9},{"Jahr":2019.73,"Anteil":9},{"Jahr":2019.79,"Anteil":10},{"Jahr":2019.85,"Anteil":11},{"Jahr":2019.91,"Anteil":11},{"Jahr":2019.95,"Anteil":10},{"Jahr":2020.04,"Anteil":9},{"Jahr":2020.10,"Anteil":9},{"Jahr":2020.14,"Anteil":7},{"Jahr":2020.18,"Anteil":6},{"Jahr":2020.24,"Anteil":5},{"Jahr":2020.28,"Anteil":6},{"Jahr":2020.31,"Anteil":5},{"Jahr":2020.37,"Anteil":4},{"Jahr":2020.41,"Anteil":6},{"Jahr":2020.58,"Anteil":6},{"Jahr":2020.66,"Anteil":5},{"Jahr":2020.71,"Anteil":4},{"Jahr":2020.77,"Anteil":7},{"Jahr":2020.81,"Anteil":4},{"Jahr":2020.88,"Anteil":3},{"Jahr":2020.91,"Anteil":6},{"Jahr":2020.94,"Anteil":7},{"Jahr":2021.04,"Anteil":4},{"Jahr":2021.08,"Anteil":5},{"Jahr":2021.16,"Anteil":6},{"Jahr":2021.23,"Anteil":3}
    ],
    "umwelt": [
      {"Jahr":2010.08,"Anteil":3},{"Jahr":2010.16,"Anteil":3},{"Jahr":2010.23,"Anteil":4},{"Jahr":2010.29,"Anteil":4},{"Jahr":2010.38,"Anteil":3},{"Jahr":2010.46,"Anteil":3},{"Jahr":2010.55,"Anteil":5},{"Jahr":2010.65,"Anteil":5},{"Jahr":2010.69,"Anteil":6},{"Jahr":2010.73,"Anteil":5},{"Jahr":2010.76,"Anteil":5},{"Jahr":2010.81,"Anteil":3},{"Jahr":2010.86,"Anteil":5},{"Jahr":2010.93,"Anteil":6},{"Jahr":2010.96,"Anteil":4},{"Jahr":2011.08,"Anteil":4},{"Jahr":2011.11,"Anteil":3},{"Jahr":2011.15,"Anteil":3},{"Jahr":2011.24,"Anteil":12},{"Jahr":2011.29,"Anteil":11},{"Jahr":2011.34,"Anteil":9},{"Jahr":2011.40,"Anteil":11},{"Jahr":2011.44,"Anteil":9},{"Jahr":2011.53,"Anteil":6},{"Jahr":2011.70,"Anteil":6},{"Jahr":2011.72,"Anteil":3},{"Jahr":2011.78,"Anteil":3},{"Jahr":2011.86,"Anteil":2},{"Jahr":2011.96,"Anteil":8},{"Jahr":2012.04,"Anteil":3},{"Jahr":2012.07,"Anteil":5},{"Jahr":2012.11,"Anteil":4},{"Jahr":2012.18,"Anteil":5},{"Jahr":2012.24,"Anteil":6},{"Jahr":2012.33,"Anteil":5},{"Jahr":2012.40,"Anteil":14},{"Jahr":2012.46,"Anteil":9},{"Jahr":2012.54,"Anteil":4},{"Jahr":2012.65,"Anteil":8},{"Jahr":2012.71,"Anteil":4},{"Jahr":2012.74,"Anteil":4},{"Jahr":2012.78,"Anteil":5},{"Jahr":2012.83,"Anteil":8},{"Jahr":2012.92,"Anteil":8},{"Jahr":2012.95,"Anteil":5},{"Jahr":2013.04,"Anteil":8},{"Jahr":2013.07,"Anteil":7},{"Jahr":2013.14,"Anteil":9},{"Jahr":2013.22,"Anteil":7},{"Jahr":2013.28,"Anteil":8},{"Jahr":2013.32,"Anteil":4},{"Jahr":2013.38,"Anteil":6},{"Jahr":2013.49,"Anteil":6},{"Jahr":2013.53,"Anteil":10},{"Jahr":2013.59,"Anteil":6},{"Jahr":2013.62,"Anteil":7},{"Jahr":2013.64,"Anteil":4},{"Jahr":2013.66,"Anteil":6},{"Jahr":2013.72,"Anteil":6},{"Jahr":2013.80,"Anteil":12},{"Jahr":2013.86,"Anteil":9},{"Jahr":2013.92,"Anteil":7},{"Jahr":2013.96,"Anteil":7},{"Jahr":2014.05,"Anteil":8},{"Jahr":2014.14,"Anteil":10},{"Jahr":2014.19,"Anteil":8},{"Jahr":2014.28,"Anteil":14},{"Jahr":2014.37,"Anteil":8},{"Jahr":2014.42,"Anteil":7},{"Jahr":2014.49,"Anteil":6},{"Jahr":2014.55,"Anteil":10},{"Jahr":2014.62,"Anteil":6},{"Jahr":2014.68,"Anteil":5},{"Jahr":2014.74,"Anteil":8},{"Jahr":2014.78,"Anteil":5},{"Jahr":2014.83,"Anteil":5},{"Jahr":2014.89,"Anteil":7},{"Jahr":2014.95,"Anteil":5},{"Jahr":2015.05,"Anteil":3},{"Jahr":2015.08,"Anteil":2},{"Jahr":2015.16,"Anteil":3},{"Jahr":2015.20,"Anteil":4},{"Jahr":2015.23,"Anteil":4},{"Jahr":2015.29,"Anteil":5},{"Jahr":2015.39,"Anteil":6},{"Jahr":2015.44,"Anteil":8},{"Jahr":2015.50,"Anteil":5},{"Jahr":2015.56,"Anteil":3},{"Jahr":2015.62,"Anteil":3},{"Jahr":2015.69,"Anteil":2},{"Jahr":2015.77,"Anteil":4},{"Jahr":2015.81,"Anteil":3},{"Jahr":2015.86,"Anteil":5},{"Jahr":2015.90,"Anteil":2},{"Jahr":2015.94,"Anteil":6},{"Jahr":2016.01,"Anteil":4},{"Jahr":2016.04,"Anteil":3},{"Jahr":2016.08,"Anteil":3},{"Jahr":2016.14,"Anteil":2},{"Jahr":2016.21,"Anteil":4},{"Jahr":2016.31,"Anteil":2},{"Jahr":2016.42,"Anteil":6},{"Jahr":2016.48,"Anteil":3},{"Jahr":2016.52,"Anteil":3},{"Jahr":2016.56,"Anteil":2},{"Jahr":2016.61,"Anteil":2},{"Jahr":2016.73,"Anteil":3},{"Jahr":2016.82,"Anteil":3},{"Jahr":2016.86,"Anteil":4},{"Jahr":2016.90,"Anteil":3},{"Jahr":2016.95,"Anteil":3},{"Jahr":2017.04,"Anteil":2},{"Jahr":2017.08,"Anteil":3},{"Jahr":2017.20,"Anteil":3},{"Jahr":2017.27,"Anteil":4},{"Jahr":2017.32,"Anteil":4},{"Jahr":2017.38,"Anteil":3},{"Jahr":2017.43,"Anteil":5},{"Jahr":2017.47,"Anteil":6},{"Jahr":2017.55,"Anteil":4},{"Jahr":2017.61,"Anteil":7},{"Jahr":2017.65,"Anteil":4},{"Jahr":2017.69,"Anteil":4},{"Jahr":2017.71,"Anteil":5},{"Jahr":2017.79,"Anteil":5},{"Jahr":2017.82,"Anteil":6},{"Jahr":2017.88,"Anteil":13},{"Jahr":2017.93,"Anteil":7},{"Jahr":2018.05,"Anteil":6},{"Jahr":2018.09,"Anteil":5},{"Jahr":2018.15,"Anteil":5},{"Jahr":2018.21,"Anteil":4},{"Jahr":2018.28,"Anteil":5},{"Jahr":2018.32,"Anteil":6},{"Jahr":2018.38,"Anteil":5},{"Jahr":2018.44,"Anteil":6},{"Jahr":2018.50,"Anteil":5},{"Jahr":2018.53,"Anteil":4},{"Jahr":2018.60,"Anteil":12},{"Jahr":2018.66,"Anteil":6},{"Jahr":2018.70,"Anteil":6},{"Jahr":2018.74,"Anteil":5},{"Jahr":2018.80,"Anteil":9},{"Jahr":2018.86,"Anteil":10},{"Jahr":2018.89,"Anteil":8},{"Jahr":2018.95,"Anteil":10},{"Jahr":2019.03,"Anteil":10},{"Jahr":2019.06,"Anteil":15},{"Jahr":2019.10,"Anteil":14},{"Jahr":2019.15,"Anteil":15},{"Jahr":2019.21,"Anteil":16},{"Jahr":2019.28,"Anteil":26},{"Jahr":2019.36,"Anteil":30},{"Jahr":2019.43,"Anteil":45},{"Jahr":2019.47,"Anteil":42},{"Jahr":2019.55,"Anteil":39},{"Jahr":2019.60,"Anteil":42},{"Jahr":2019.68,"Anteil":36},{"Jahr":2019.74,"Anteil":59},{"Jahr":2019.79,"Anteil":41},{"Jahr":2019.85,"Anteil":35},{"Jahr":2019.91,"Anteil":42},{"Jahr":2019.95,"Anteil":39},{"Jahr":2020.04,"Anteil":45},{"Jahr":2020.24,"Anteil":9},{"Jahr":2020.31,"Anteil":11},{"Jahr":2020.37,"Anteil":15},{"Jahr":2020.40,"Anteil":15},{"Jahr":2020.44,"Anteil":14},{"Jahr":2020.49,"Anteil":12},{"Jahr":2020.52,"Anteil":13},{"Jahr":2020.58,"Anteil":13},{"Jahr":2020.65,"Anteil":17},{"Jahr":2020.71,"Anteil":18},{"Jahr":2020.76,"Anteil":17},{"Jahr":2020.81,"Anteil":17},{"Jahr":2020.87,"Anteil":13},{"Jahr":2020.90,"Anteil":19},{"Jahr":2020.94,"Anteil":14},{"Jahr":2021.04,"Anteil":14},{"Jahr":2021.08,"Anteil":16},{"Jahr":2021.15,"Anteil":16},{"Jahr":2021.23,"Anteil":18}
    ]
  },
  "encoding": {
    "x": {
      "field": "Jahr",
      "type": "quantitative",
      "title": "Jahr",
      "scale": {"domain": [2009.52, 2021.79], "nice": false, "zero": false},
      "axis": {"values": [2010, 2015, 2020], "format": "d"}
    },
    "y": {
      "field": "Anteil",
      "type": "quantitative",
      "title": "Anteil an Nennungen in %",
      "scale": {"domain": [-3.35, 92.35], "nice": false, "zero": false},
      "axis": {"values": [0, 25, 50, 75]}
    }
  },
  "layer": [
    {
      "data": {"name": "auslaender"},
      "mark": "line",
      "encoding": {
        "color": {
          "datum": "Ausländer/Flüchtlinge",
          "type": "nominal",
          "title": "Thema",
          "scale": {
            "domain": ["Ausländer/Flüchtlinge", "Bildung", "Corona", "Renten", "Soziales Gefälle", "Umwelt/Klima"],
            "range": ["#F8766D", "#B79F00", "#00BA38", "#00BFC4", "#619CFF", "#F564E3"]
          }
        }
      }
    },
    {
      "data": {"name": "bildung"},
      "mark": "line",
      "encoding": {"color": {"datum": "Bildung", "type": "nominal", "title": "Thema"}}
    },
    {
      "data": {"name": "corona"},
      "mark": "line",
      "encoding": {"color": {"datum": "Corona", "type": "nominal", "title": "Thema"}}
    },
    {
      "data": {"name": "renten"},
      "mark": "line",
      "encoding": {"color": {"datum": "Renten", "type": "nominal", "title": "Thema"}}
    },
    {
      "data": {"name": "soziales"},
      "mark": "line",
      "encoding": {"color": {"datum": "Soziales Gefälle", "type": "nominal", "title": "Thema"}}
    },
    {
      "data": {"name": "umwelt"},
      "mark": "line",
      "encoding": {"color": {"datum": "Umwelt/Klima", "type": "nominal", "title": "Thema"}}
    }
  ]
}
